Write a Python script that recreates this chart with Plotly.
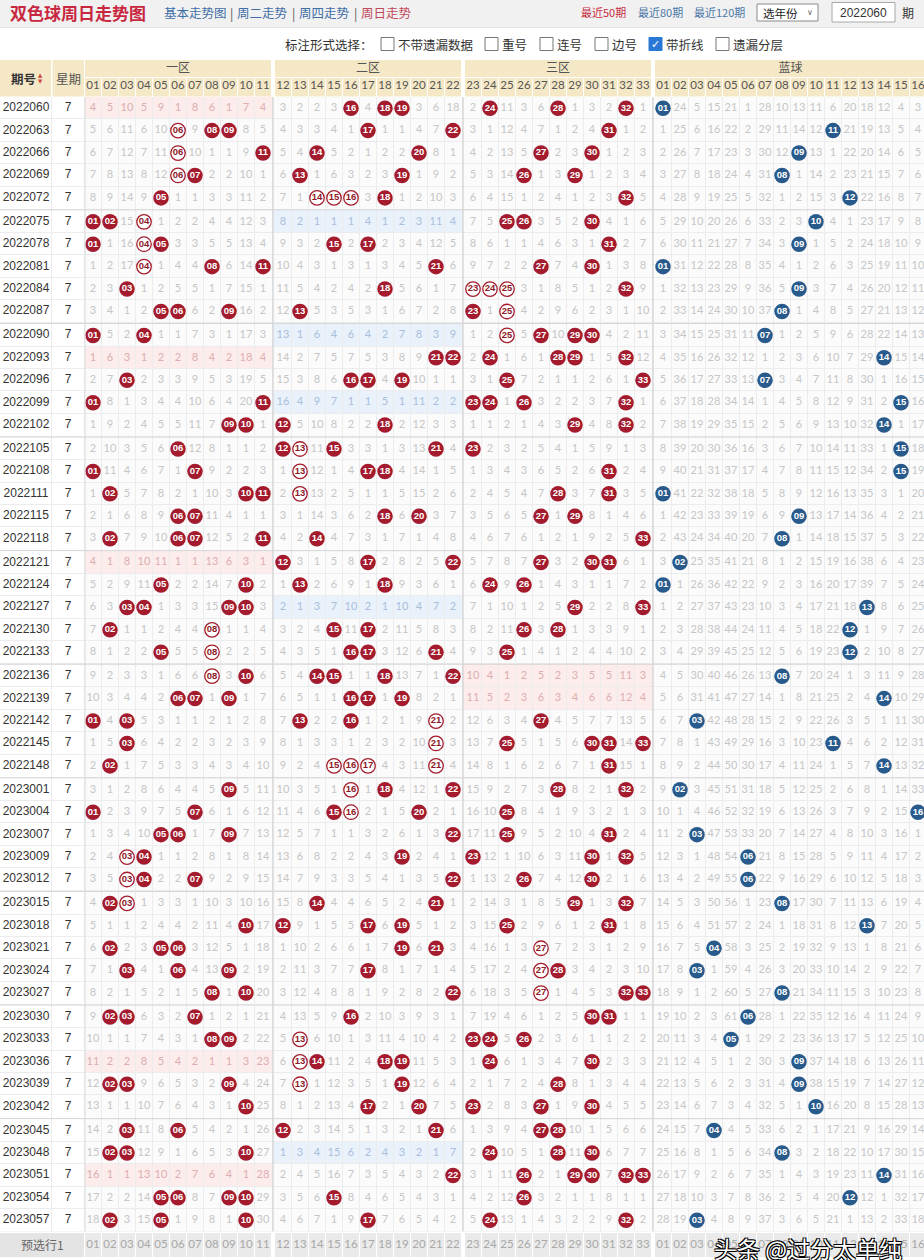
import plotly.graph_objects as go

# ---------------- data ----------------
periods = ["2022060", "2022063", "2022066", "2022069", "2022072", "2022075", "2022078", "2022081",
           "2022084", "2022087", "2022090", "2022093", "2022096", "2022099", "2022102", "2022105",
           "2022108", "2022111", "2022115", "2022118", "2022121", "2022124", "2022127", "2022130",
           "2022133", "2022136", "2022139", "2022142", "2022145", "2022148", "2023001", "2023004",
           "2023007", "2023009", "2023012", "2023015", "2023018", "2023021", "2023024", "2023027",
           "2023030", "2023033", "2023036", "2023039", "2023042", "2023045", "2023048", "2023051",
           "2023054", "2023057"]
weekdays = [7, 7, 7, 7, 7, 7, 7, 7, 7, 7, 7, 7, 7, 7, 7, 7, 7, 7, 7, 7, 7, 7, 7, 7, 7,
            7, 7, 7, 7, 7, 7, 7, 7, 7, 7, 7, 7, 7, 7, 7, 7, 7, 7, 7, 7, 7, 7, 7, 7, 7]
red_labels = ["01", "02", "03", "04", "05", "06", "07", "08", "09", "10", "11",
              "12", "13", "14", "15", "16", "17", "18", "19", "20", "21", "22",
              "23", "24", "25", "26", "27", "28", "29", "30", "31", "32", "33"]
blue_labels = ["01", "02", "03", "04", "05", "06", "07", "08", "09", "10", "11", "12", "13", "14", "15", "16"]
zone_names = ["一区", "二区", "三区", "蓝球"]

# "*NN" = drawn number (filled ball), "oNN" = drawn number shown as ring, plain = omission count
red_rows = [
    "4 5 10 5 9 1 8 6 1 7 4 | 3 2 2 3 *16 4 *18 *19 3 6 18 | 2 *24 11 3 6 *28 1 3 2 *32 1",
    "5 6 11 6 10 o06 9 *08 *09 8 5 | 4 3 3 4 1 *17 1 1 4 7 *22 | 3 1 12 4 7 1 2 4 *31 1 2",
    "6 7 12 7 11 o06 10 1 1 9 *11 | 5 4 *14 5 2 1 2 2 *20 8 1 | 4 2 13 5 *27 2 3 *30 1 2 3",
    "7 8 13 8 12 o06 *07 2 2 10 1 | 6 *13 1 6 3 2 3 *19 1 9 2 | 5 3 14 *26 1 3 *29 1 2 3 4",
    "8 9 14 9 *05 1 1 3 3 11 2 | 7 1 o14 o15 o16 3 *18 1 2 10 3 | 6 4 15 1 2 4 1 2 3 *32 5",
    "*01 *02 15 o04 1 2 2 4 4 12 3 | 8 2 1 1 1 4 1 2 3 11 4 | 7 5 *25 *26 3 5 2 *30 4 1 6",
    "*01 1 16 o04 *05 3 3 5 5 13 4 | 9 3 2 *15 2 *17 2 3 4 12 5 | 8 6 1 1 4 6 3 1 *31 2 7",
    "1 2 17 o04 1 4 4 *08 6 14 *11 | 10 4 3 1 3 1 3 4 5 *21 6 | 9 7 2 2 *27 7 4 *30 1 3 8",
    "2 3 *03 1 2 5 5 1 7 15 1 | 11 5 4 2 4 2 *18 5 6 1 7 | o23 o24 o25 3 1 8 5 1 2 *32 9",
    "3 4 1 2 *05 *06 6 2 *09 16 2 | 12 *13 5 3 5 3 1 6 7 2 8 | *23 1 o25 4 2 9 6 2 3 1 10",
    "*01 5 2 *04 1 1 7 3 1 17 3 | 13 1 6 4 6 4 2 7 8 3 9 | 1 2 o25 5 *27 10 *29 *30 4 2 11",
    "1 6 3 1 2 2 8 4 2 18 4 | 14 2 7 5 7 5 3 8 9 *21 *22 | 2 *24 1 6 1 *28 *29 1 5 *32 12",
    "2 7 *03 2 3 3 9 5 3 19 5 | 15 3 8 6 *16 *17 4 *19 10 1 1 | 3 1 *25 7 2 1 1 2 6 1 *33",
    "*01 8 1 3 4 4 10 6 4 20 *11 | 16 4 9 7 1 1 5 1 11 2 2 | *23 *24 1 *26 3 2 2 3 7 *32 1",
    "1 9 2 4 5 5 11 7 *09 *10 1 | *12 5 10 8 2 2 *18 2 12 3 3 | 1 1 2 1 4 3 *29 4 8 *32 2",
    "2 10 3 5 6 *06 12 8 1 1 2 | *12 o13 11 *15 3 3 1 3 13 *21 4 | *23 2 3 2 5 4 1 5 9 1 3",
    "*01 11 4 6 7 1 *07 9 2 2 3 | 1 o13 12 1 4 *17 *18 4 14 1 5 | 1 3 4 3 6 5 2 6 *31 2 4",
    "1 *02 5 7 8 2 1 10 3 *10 *11 | 2 o13 13 2 5 1 1 5 15 2 6 | 2 4 5 4 7 *28 3 7 *31 3 5",
    "2 1 6 8 9 *06 *07 11 4 1 1 | 3 1 14 3 6 2 *18 6 *20 3 7 | 3 5 6 5 *27 1 *29 8 1 4 6",
    "3 *02 7 9 10 *06 *07 12 5 2 *11 | 4 2 *14 4 7 3 1 7 1 4 8 | 4 6 7 6 1 2 1 9 2 5 *33",
    "4 1 8 10 11 1 1 13 6 3 1 | *12 3 1 5 8 *17 2 8 2 5 *22 | 5 7 8 7 *27 3 2 *30 *31 6 1",
    "5 2 9 11 *05 2 2 14 7 *10 2 | 1 *13 2 6 9 1 *18 9 3 6 1 | 6 *24 9 *26 1 4 3 1 1 7 2",
    "6 3 *03 *04 1 3 3 15 *09 *10 3 | 2 1 3 7 10 2 1 10 4 7 2 | 7 1 10 1 2 5 *29 2 2 8 *33",
    "7 *02 1 1 2 4 4 o08 1 1 4 | 3 2 4 *15 11 *17 2 11 5 8 3 | 8 2 11 *26 3 *28 1 3 3 9 1",
    "8 1 2 2 *05 5 5 o08 2 2 5 | 4 3 5 1 *16 *17 3 12 6 *21 4 | 9 3 *25 1 4 1 2 4 4 10 2",
    "9 2 3 3 1 6 6 o08 3 *10 6 | 5 4 *14 *15 1 1 *18 13 7 1 *22 | 10 4 1 2 5 2 3 5 5 11 3",
    "10 3 4 4 2 *06 *07 1 *09 1 7 | 6 5 1 1 *16 *17 1 *19 8 2 1 | 11 5 2 3 6 3 4 6 6 12 4",
    "*01 4 *03 5 3 1 1 2 1 2 8 | 7 *13 2 2 *16 1 2 1 9 o21 2 | 12 6 3 4 *27 4 5 7 7 13 5",
    "1 5 *03 6 4 2 2 3 2 3 9 | 8 1 3 3 1 2 3 2 10 o21 3 | 13 7 *25 5 1 5 6 *30 *31 14 *33",
    "2 *02 1 7 5 3 3 4 3 4 10 | 9 2 4 o15 o16 o17 4 3 11 o21 4 | 14 8 1 6 2 6 7 1 *31 15 1",
    "3 1 2 8 6 4 4 5 *09 5 11 | 10 3 5 1 o16 1 *18 4 12 1 *22 | 15 9 2 7 3 *28 8 2 1 *32 2",
    "*01 2 3 9 7 5 *07 6 1 6 12 | 11 4 6 *15 o16 2 1 5 *20 2 1 | 16 10 *25 8 4 1 9 3 2 1 3",
    "1 3 4 10 *05 *06 1 7 *09 7 13 | 12 5 7 1 1 3 2 6 1 3 *22 | 17 11 *25 9 5 2 10 4 *31 2 4",
    "2 4 o03 *04 1 1 2 8 1 8 14 | 13 6 8 2 2 4 3 *19 2 4 1 | *23 12 1 10 6 3 11 *30 1 *32 5",
    "3 5 o03 *04 2 2 *07 9 2 9 15 | 14 7 9 3 3 5 4 1 3 5 *22 | 1 13 2 *26 7 4 12 *30 2 1 6",
    "4 *02 o03 1 3 3 1 10 3 10 16 | 15 8 *14 4 4 6 5 2 4 *21 1 | 2 14 3 1 8 5 *29 1 3 *32 7",
    "5 1 1 2 4 4 2 11 4 *10 17 | *12 9 1 5 5 *17 6 *19 5 1 2 | 3 15 *25 2 9 6 1 2 *31 1 8",
    "6 *02 2 3 *05 *06 3 12 5 1 18 | 1 10 2 6 6 1 7 *19 6 *21 3 | 4 16 1 3 o27 7 2 3 1 2 9",
    "7 1 *03 4 1 *06 4 13 *09 2 19 | 2 11 3 7 7 *17 8 1 7 1 4 | 5 17 2 4 o27 *28 3 4 2 3 10",
    "8 2 1 5 2 1 5 *08 1 *10 20 | 3 12 4 8 8 1 9 2 8 2 *22 | 6 18 3 5 o27 1 4 5 3 *32 *33",
    "9 *02 *03 6 3 2 *07 1 2 1 21 | 4 13 5 9 *16 2 10 3 9 3 1 | 7 19 4 6 1 2 5 *30 *31 1 1",
    "10 1 1 7 4 3 1 *08 *09 2 22 | 5 o13 6 10 1 3 11 4 10 4 2 | *23 *24 5 *26 2 3 6 1 1 2 2",
    "11 2 2 8 5 4 2 1 1 3 23 | 6 o13 *14 11 2 4 *18 *19 11 5 3 | 1 *24 6 1 3 4 7 *30 2 3 3",
    "12 *02 *03 9 6 5 3 2 *09 4 24 | 7 o13 1 12 3 5 1 *19 12 6 4 | 2 1 7 2 4 *28 8 1 3 4 4",
    "13 1 1 10 7 6 4 3 1 *10 25 | 8 1 2 13 4 *17 2 1 *20 7 5 | *23 2 8 3 *27 1 9 *30 4 5 5",
    "14 2 *03 11 8 *06 5 4 2 1 26 | *12 2 3 14 5 1 3 2 1 *21 6 | 1 3 9 4 *27 *28 10 1 5 6 6",
    "15 *02 *03 12 9 1 6 5 3 *10 27 | 1 3 4 15 6 2 4 3 2 1 7 | 2 *24 10 5 1 *28 11 *30 6 7 7",
    "16 1 1 13 10 2 7 6 4 1 28 | 2 4 5 16 7 3 5 4 3 2 *22 | 3 1 11 *26 2 1 *29 *30 7 *32 *33",
    "17 2 2 14 *05 *06 8 7 *09 *10 29 | 3 5 6 *15 8 4 6 5 4 3 1 | 4 2 12 *26 3 2 1 1 8 1 1",
    "18 *02 3 15 *05 1 9 8 1 *10 30 | 4 6 7 1 9 *17 7 6 5 4 2 | 5 *24 13 1 4 3 2 2 9 *32 2",
]
blue_rows = [
    "*01 24 5 15 21 1 28 10 13 11 6 20 18 12 4 3",
    "1 25 6 16 22 2 29 11 14 12 *11 21 19 13 5 4",
    "2 26 7 17 23 3 30 12 *09 13 1 22 20 14 6 5",
    "3 27 8 18 24 4 31 *08 1 14 2 23 21 15 7 6",
    "4 28 9 19 25 5 32 1 2 15 3 *12 22 16 8 7",
    "5 29 10 20 26 6 33 2 3 *10 4 1 23 17 9 8",
    "6 30 11 21 27 7 34 3 *09 1 5 2 24 18 10 9",
    "*01 31 12 22 28 8 35 4 1 2 6 3 25 19 11 10",
    "1 32 13 23 29 9 36 5 *09 3 7 4 26 20 12 11",
    "2 33 14 24 30 10 37 *08 1 4 8 5 27 21 13 12",
    "3 34 15 25 31 11 *07 1 2 5 9 6 28 22 14 13",
    "4 35 16 26 32 12 1 2 3 6 10 7 29 *14 15 14",
    "5 36 17 27 33 13 *07 3 4 7 11 8 30 1 16 15",
    "6 37 18 28 34 14 1 4 5 8 12 9 31 2 *15 16",
    "7 38 19 29 35 15 2 5 6 9 13 10 32 *14 1 17",
    "8 39 20 30 36 16 3 6 7 10 14 11 33 1 *15 18",
    "9 40 21 31 37 17 4 7 8 11 15 12 34 2 *15 19",
    "*01 41 22 32 38 18 5 8 9 12 16 13 35 3 1 20",
    "1 42 23 33 39 19 6 9 *09 13 17 14 36 4 2 21",
    "2 43 24 34 40 20 7 *08 1 14 18 15 37 5 3 22",
    "3 *02 25 35 41 21 8 1 2 15 19 16 38 6 4 23",
    "*01 1 26 36 42 22 9 2 3 16 20 17 39 7 5 24",
    "1 2 27 37 43 23 10 3 4 17 21 18 *13 8 6 25",
    "2 3 28 38 44 24 11 4 5 18 22 *12 1 9 7 26",
    "3 4 29 39 45 25 12 5 6 19 23 *12 2 10 8 27",
    "4 5 30 40 46 26 13 *08 7 20 24 1 3 11 9 28",
    "5 6 31 41 47 27 14 1 8 21 25 2 4 *14 10 29",
    "6 7 *03 42 48 28 15 2 9 22 26 3 5 1 11 30",
    "7 8 1 43 49 29 16 3 10 23 *11 4 6 2 12 31",
    "8 9 2 44 50 30 17 4 11 24 1 5 7 *14 13 32",
    "9 *02 3 45 51 31 18 5 12 25 2 6 8 1 14 33",
    "10 1 4 46 52 32 19 6 13 26 3 7 9 2 15 *16",
    "11 2 *03 47 53 33 20 7 14 27 4 8 10 3 16 1",
    "12 3 1 48 54 *06 21 8 15 28 5 9 11 4 17 2",
    "13 4 2 49 55 *06 22 9 16 29 6 10 12 5 18 3",
    "14 5 3 50 56 1 23 *08 17 30 7 11 13 6 19 4",
    "15 6 4 51 57 2 24 1 18 31 8 12 *13 7 20 5",
    "16 7 5 *04 58 3 25 2 19 32 9 13 1 8 21 6",
    "17 8 *03 1 59 4 26 3 20 33 10 14 2 9 22 7",
    "18 9 1 2 60 5 27 *08 21 34 11 15 3 10 23 8",
    "19 10 2 3 61 *06 28 1 22 35 12 16 4 11 24 9",
    "20 11 3 4 *05 1 29 2 23 36 13 17 5 12 25 10",
    "21 12 4 5 1 2 30 3 *09 37 14 18 6 13 26 11",
    "22 13 5 6 2 3 31 4 *09 38 15 19 7 14 27 12",
    "23 14 6 7 3 4 32 5 1 *10 16 20 8 15 28 13",
    "24 15 7 *04 4 5 33 6 2 1 17 21 9 16 29 14",
    "25 16 8 1 5 6 34 *08 3 2 18 22 10 17 30 15",
    "26 17 9 2 6 7 35 1 4 3 19 23 11 *14 31 16",
    "27 18 10 3 7 8 36 2 5 4 20 *12 12 1 32 17",
    "28 19 *03 4 8 9 37 3 6 5 21 1 13 2 33 18",
]
footer_label = "预选行1"

# ---------------- layout constants ----------------
W, H = 924, 1260
COL0, COLW, ZGAP = 93.0, 17.0, 3.0
ROW0, ROWH, GGAP = 108.2, 22.42, 1.5
CJK = "Noto Sans CJK SC"
NUM = "Lato, Open Sans, sans-serif"
BALL = "Liberation Sans Narrow, Liberation Sans, Arial, sans-serif"
RED, BLUE = "#a31b2d", "#285a8c"
BEIGE = "#f5e8c6"

n_red, n_blue = len(red_labels), len(blue_labels)
n_cols = n_red + n_blue
zone_bounds = [(0, 11), (11, 22), (22, 33), (33, 33 + n_blue)]


def zone_of(j):
    for z, (a, b) in enumerate(zone_bounds):
        if a <= j < b:
            return z
    return 3


def col_x(j):
    return COL0 + COLW * j + ZGAP * zone_of(j)


def row_y(i):
    return ROW0 + ROWH * i + GGAP * (i // 5)


# ---------------- parse rows ----------------
grid = []
for r, b in zip(red_rows, blue_rows):
    toks = [t for t in (r + " " + b).split() if t != "|"]
    assert len(toks) == n_cols, (r, len(toks))
    grid.append(toks)

nrows = len(periods)
cx = [col_x(j) for j in range(n_cols)]
ry = [row_y(i) for i in range(nrows)]

# zone without any drawn number -> highlighted band
band = []
for i in range(nrows):
    rowband = []
    for z in range(3):
        a, b = zone_bounds[z]
        hit = any(grid[i][j][0] in "*o" for j in range(a, b))
        rowband.append(0 if hit else (2 if z == 1 else 1))
    rowband.append(0)
    band.append(rowband)

# ---------------- background cells (heatmap) ----------------
xe = [0, 52, 85] + [(cx[j - 1] + cx[j]) / 2 for j in range(1, n_cols)] + [cx[-1] + COLW / 2]
ye = [ry[0] - ROWH / 2] + [(ry[i - 1] + ry[i]) / 2 for i in range(1, nrows)] + [ry[-1] + ROWH / 2]
zbg = [[3, 3] + [band[i][zone_of(j)] for j in range(n_cols)] for i in range(nrows)]
cs = [[0, "#fbfbfb"], [0.25, "#fbfbfb"], [0.25, "#fcecec"], [0.5, "#fcecec"],
      [0.5, "#e9f1fb"], [0.75, "#e9f1fb"], [0.75, "#ffffff"], [1, "#ffffff"]]

fig = go.Figure()
fig.add_trace(go.Heatmap(x=xe, y=ye, z=zbg, colorscale=cs, zmin=-0.5, zmax=3.5, showscale=False,
                         xgap=1, ygap=1, hoverinfo="skip"))

# ---------------- numbers & balls ----------------
txt = {0: ([], [], []), 1: ([], [], []), 2: ([], [], [])}
filled = ([], [], [])
ring = ([], [], [])
blue = ([], [], [])
for i in range(nrows):
    for j in range(n_cols):
        t = grid[i][j]
        z = zone_of(j)
        if t[0] == "*":
            dst = blue if z == 3 else filled
            dst[0].append(cx[j]); dst[1].append(ry[i]); dst[2].append(t[1:])
        elif t[0] == "o":
            ring[0].append(cx[j]); ring[1].append(ry[i]); ring[2].append(t[1:])
        else:
            k = band[i][z]
            txt[k][0].append(cx[j]); txt[k][1].append(ry[i]); txt[k][2].append(t)

num_colors = {0: "#c6c6c6", 1: "#dcaeb0", 2: "#a9bfdc"}
for k, (xs, ys, ts) in txt.items():
    fig.add_trace(go.Scatter(x=xs, y=ys, text=ts, mode="text", hoverinfo="skip",
                             textfont=dict(family=NUM, size=11, color=num_colors[k])))

fig.add_trace(go.Scatter(x=filled[0], y=filled[1], text=filled[2], mode="markers+text",
                         textposition="middle center", hoverinfo="skip",
                         marker=dict(size=15.5, color=RED, line=dict(width=0)),
                         textfont=dict(family=BALL, size=9.5, color="white", weight="bold")))
fig.add_trace(go.Scatter(x=ring[0], y=ring[1], text=ring[2], mode="markers+text",
                         textposition="middle center", hoverinfo="skip",
                         marker=dict(size=14.5, color="white", line=dict(width=1.3, color=RED)),
                         textfont=dict(family=BALL, size=9.5, color="#8e1a26", weight="bold")))
fig.add_trace(go.Scatter(x=blue[0], y=blue[1], text=blue[2], mode="markers+text",
                         textposition="middle center", hoverinfo="skip",
                         marker=dict(size=15.5, color=BLUE, line=dict(width=0)),
                         textfont=dict(family=BALL, size=9.5, color="white", weight="bold")))

# period & weekday columns
fig.add_trace(go.Scatter(x=[26] * nrows, y=ry, text=periods, mode="text", hoverinfo="skip",
                         textfont=dict(family="Liberation Sans, Arial", size=12, color="#333333")))
fig.add_trace(go.Scatter(x=[68] * nrows, y=ry, text=[str(w) for w in weekdays], mode="text",
                         hoverinfo="skip",
                         textfont=dict(family="Liberation Sans, Arial", size=12, color="#333333")))

# ---------------- header / footer ----------------
all_labels = red_labels + blue_labels
HDR_ZONE_Y, HDR_NUM_Y = 68.5, 86.5
foot_top = ye[-1] + 1.5
foot_bot = foot_top + 24
foot_y = (foot_top + foot_bot) / 2

fig.add_trace(go.Scatter(x=cx, y=[HDR_NUM_Y] * n_cols, text=all_labels, mode="text", hoverinfo="skip",
                         textfont=dict(family=NUM, size=11.5, color="#555555")))
zone_cx = [(cx[a] + cx[b - 1]) / 2 for a, b in zone_bounds]
fig.add_trace(go.Scatter(x=zone_cx, y=[HDR_ZONE_Y] * 4, text=zone_names, mode="text", hoverinfo="skip",
                         textfont=dict(family=CJK, size=12, color="#555555")))
fig.add_trace(go.Scatter(x=cx, y=[foot_y] * n_cols, text=all_labels, mode="text", hoverinfo="skip",
                         textfont=dict(family=NUM, size=11.5, color="#a8a8a8")))

shapes = []
# table grid base (shows through heatmap gaps)
shapes.append(dict(type="rect", layer="below", x0=0, x1=W, y0=ye[0], y1=ye[-1],
                   fillcolor="#ececec", line=dict(width=0)))
# top bar
shapes.append(dict(type="rect", layer="below", x0=0, x1=W, y0=0, y1=27, fillcolor="#f1f1f1",
                   line=dict(width=0)))
shapes.append(dict(type="line", x0=0, x1=W, y0=27.5, y1=27.5, line=dict(color="#e2e2e2", width=1)))
# header cells
shapes.append(dict(type="rect", layer="below", x0=0, x1=51, y0=60, y1=96.5, fillcolor=BEIGE,
                   line=dict(width=0)))
shapes.append(dict(type="rect", layer="below", x0=52.5, x1=84, y0=60, y1=96.5, fillcolor=BEIGE,
                   line=dict(width=0)))
for a, b in zone_bounds:
    shapes.append(dict(type="rect", layer="below", x0=cx[a] - COLW / 2 + 0.5, x1=cx[b - 1] + COLW / 2 - 0.5,
                       y0=60, y1=77, fillcolor=BEIGE, line=dict(width=0)))
for j in range(n_cols):
    shapes.append(dict(type="rect", layer="below", x0=cx[j] - COLW / 2 + 0.5, x1=cx[j] + COLW / 2 - 0.5,
                       y0=78, y1=96.5, fillcolor=BEIGE, line=dict(width=0)))
# footer cells
shapes.append(dict(type="rect", layer="below", x0=0, x1=84, y0=foot_top, y1=foot_bot,
                   fillcolor="#e4e4e4", line=dict(width=0)))
for j in range(n_cols):
    shapes.append(dict(type="rect", layer="below", x0=cx[j] - COLW / 2 + 0.5, x1=cx[j] + COLW / 2 - 0.5,
                       y0=foot_top, y1=foot_bot, fillcolor="#eaeaea", line=dict(width=0)))
# zone dividers
for a, b in zone_bounds[1:]:
    xd = (cx[a - 1] + cx[a]) / 2
    shapes.append(dict(type="line", x0=xd, x1=xd, y0=ye[0], y1=ye[-1], line=dict(color="#d2d2d2", width=1.2)))
shapes.append(dict(type="line", x0=85, x1=85, y0=ye[0], y1=ye[-1], line=dict(color="#dddddd", width=1)))
# group separators every 5 rows
for i in range(5, nrows, 5):
    shapes.append(dict(type="line", x0=0, x1=W, y0=ye[i], y1=ye[i], line=dict(color="#d6d6d6", width=1)))

# checkboxes
cb_boxes = [381, 485, 540, 595, 649, 716]
cb_labels = ["不带遗漏数据", "重号", "连号", "边号", "带折线", "遗漏分层"]
cb_checked = [False, False, False, False, True, False]
ann = []
for xb, lab, chk in zip(cb_boxes, cb_labels, cb_checked):
    shapes.append(dict(type="rect", x0=xb, x1=xb + 13, y0=37.5, y1=50.5,
                       fillcolor="#2a78d6" if chk else "white",
                       line=dict(color="#2a78d6" if chk else "#777777", width=1)))
    if chk:
        ann.append(dict(x=xb + 6.5, y=44.5, text="✓", showarrow=False, xanchor="center", yanchor="middle",
                        font=dict(family="DejaVu Sans", size=11, color="white")))
    ann.append(dict(x=xb + 15, y=44, text=lab, showarrow=False, xanchor="left", yanchor="middle",
                    font=dict(family=CJK, size=12.5, color="#333333")))
ann.append(dict(x=283, y=44, text="标注形式选择：", showarrow=False, xanchor="left", yanchor="middle",
                font=dict(family=CJK, size=12.5, color="#333333")))

# title and links
ann.append(dict(x=8, y=12.5, text="<b>双色球周日走势图</b>", showarrow=False, xanchor="left", yanchor="middle",
                font=dict(family=CJK, size=17, color="#c8283f")))
links = [(162, "基本走势图", "#3f6ea6"), (228, "|", "#555555"), (235, "周二走势", "#3f6ea6"),
         (290, "|", "#555555"), (297, "周四走势", "#3f6ea6"), (352, "|", "#555555"),
         (359, "周日走势", "#c0485a")]
for xl, t, c in links:
    ann.append(dict(x=xl, y=12, text=t, showarrow=False, xanchor="left", yanchor="middle",
                    font=dict(family=CJK, size=12.5, color=c)))
recent = [(579, "最近50期", "#c8283f"), (636, "最近80期", "#4a76a8"), (692, "最近120期", "#4a76a8")]
for xl, t, c in recent:
    ann.append(dict(x=xl, y=12, text=t, showarrow=False, xanchor="left", yanchor="middle",
                    font=dict(family=CJK, size=11, color=c)))
shapes.append(dict(type="rect", x0=757, x1=818, y0=4, y1=21, fillcolor="white",
                   line=dict(color="#8a8a8a", width=1)))
ann.append(dict(x=761, y=12.5, text="选年份", showarrow=False, xanchor="left", yanchor="middle",
                font=dict(family=CJK, size=11.5, color="#222222")))
ann.append(dict(x=810, y=12.5, text="∨", showarrow=False, xanchor="center", yanchor="middle",
                font=dict(family="DejaVu Sans", size=8, color="#666666")))
shapes.append(dict(type="rect", x0=832, x1=895, y0=2.5, y1=22, fillcolor="white",
                   line=dict(color="#a8a8a8", width=1)))
ann.append(dict(x=863.5, y=12.5, text=periods[0], showarrow=False, xanchor="center", yanchor="middle",
                font=dict(family="Liberation Sans, Arial", size=12, color="#333333")))
ann.append(dict(x=900, y=12.5, text="期", showarrow=False, xanchor="left", yanchor="middle",
                font=dict(family=CJK, size=12, color="#333333")))

# table header labels
ann.append(dict(x=23, y=78, text="<b>期号</b>", showarrow=False, xanchor="center", yanchor="middle",
                font=dict(family=CJK, size=12.5, color="#333333")))
ann.append(dict(x=40, y=75, text="▲", showarrow=False, xanchor="center", yanchor="middle",
                font=dict(family="DejaVu Sans", size=5.5, color="#d0463b")))
ann.append(dict(x=40, y=81, text="▼", showarrow=False, xanchor="center", yanchor="middle",
                font=dict(family="DejaVu Sans", size=5.5, color="#d0463b")))
ann.append(dict(x=68.5, y=78, text="星期", showarrow=False, xanchor="center", yanchor="middle",
                font=dict(family=CJK, size=12.5, color="#555555")))
ann.append(dict(x=42, y=foot_y, text=footer_label, showarrow=False, xanchor="center", yanchor="middle",
                font=dict(family=CJK, size=12, color="#666666")))
# watermark
ann.append(dict(x=808, y=1248, text="头条 @过分太单纯", showarrow=False, xanchor="center", yanchor="middle",
                font=dict(family=CJK, size=23, color="white",
                          shadow="-1px -1px 0 #000, 1px -1px 0 #000, -1px 1px 0 #000, 1px 1px 0 #000")))

fig.update_layout(
    width=W, height=H, autosize=False,
    margin=dict(l=0, r=0, t=0, b=0, pad=0),
    paper_bgcolor="white", plot_bgcolor="white",
    showlegend=False,
    xaxis=dict(range=[0, W], visible=False, fixedrange=True),
    yaxis=dict(range=[H, 0], visible=False, fixedrange=True),
    shapes=shapes, annotations=ann,
)

fig.write_html("out.html", config={"displayModeBar": False},
               post_script="document.body.style.margin='0';document.body.style.overflow='hidden';")
